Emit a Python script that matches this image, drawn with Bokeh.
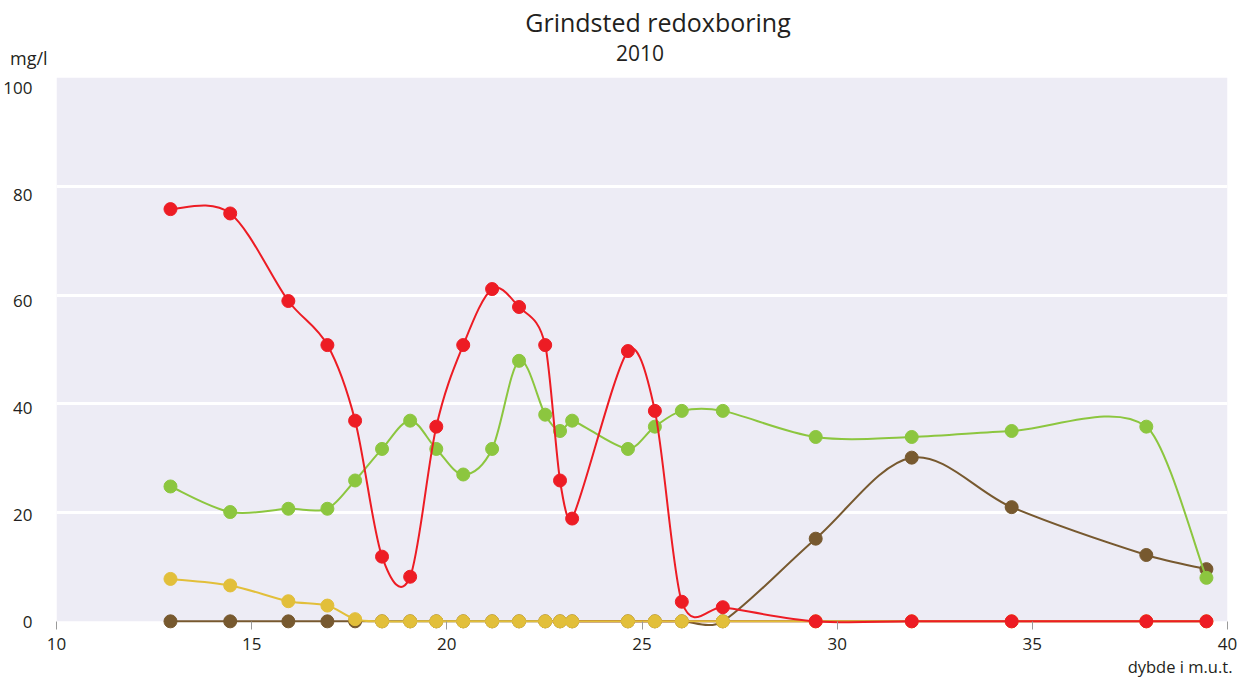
import numpy as np
from bokeh.plotting import figure
from bokeh.layouts import column
from bokeh.models import BoxAnnotation, FixedTicker, Range1d, Div, Title, LinearAxis
from bokeh.embed import file_html
from bokeh.resources import INLINE

# ---- data ----
depth = [12.92, 14.45, 15.94, 16.94, 17.65, 18.34, 19.06, 19.73, 20.42, 21.16, 21.85,
         22.52, 22.90, 23.21, 24.64, 25.33, 26.02, 27.07, 29.45, 31.91, 34.47, 37.92, 39.46]
red = [75.8, 75.0, 58.9, 50.8, 36.9, 11.9, 8.2, 35.8, 50.8, 61.1, 57.8,
       50.8, 25.9, 18.9, 49.7, 38.7, 3.6, 2.6, 0.0, 0.0, 0.0, 0.0, 0.0]
green = [24.8, 20.1, 20.7, 20.7, 25.9, 31.7, 36.9, 31.7, 27.0, 31.7, 47.9,
         38.0, 35.0, 36.9, 31.7, 35.8, 38.7, 38.7, 33.9, 33.9, 35.0, 35.8, 8.0]
brown = [0, 0, 0, 0, 0, 0, 0, 0, 0, 0, 0,
         0, 0, 0, 0, 0, 0, 0, 15.2, 30.1, 21.0, 12.2, 9.6]
yellow = [7.8, 6.6, 3.7, 2.9, 0.4, 0, 0, 0, 0, 0, 0,
          0, 0, 0, 0, 0, 0, 0, 0, 0, 0, 0, 0]
maroon_depth = depth[11:]
maroon = [0, 0, 0, 0, 0, 0, 0, 0, 0, 0, 0, 0]

y_ticks = [0, 20, 40, 60, 80, 100]
x_ticks = [10, 15, 20, 25, 30, 35, 40]

title_text = "Grindsted redoxboring"
subtitle_text = "2010"
y_unit = "mg/l"
x_title = "dybde i m.u.t."

FONT = "Open Sans"
TXT = "#231f20"


def smooth_segments(xs, ys):
    """Cardinal-spline bezier control points through the data points,
    with control handles kept inside each segment's x span."""
    x = np.asarray(xs, float)
    y = np.asarray(ys, float)
    xp = np.concatenate([[x[0]], x, [x[-1]]])
    yp = np.concatenate([[y[0]], y, [y[-1]]])
    n = len(x)
    d = dict(x0=[], y0=[], x1=[], y1=[], cx0=[], cy0=[], cx1=[], cy1=[])
    for i in range(n - 1):
        p0x, p0y = xp[i], yp[i]
        p1x, p1y = xp[i + 1], yp[i + 1]
        p2x, p2y = xp[i + 2], yp[i + 2]
        p3x, p3y = xp[i + 3], yp[i + 3]
        dx = p2x - p1x
        t1x, t1y = (p2x - p0x) / 6.0, (p2y - p0y) / 6.0
        t2x, t2y = (p3x - p1x) / 6.0, (p3y - p1y) / 6.0
        if t1x > dx / 3.0 and t1x > 0:
            s = (dx / 3.0) / t1x
            t1x, t1y = t1x * s, t1y * s
        if t2x > dx / 3.0 and t2x > 0:
            s = (dx / 3.0) / t2x
            t2x, t2y = t2x * s, t2y * s
        d["x0"].append(p1x); d["y0"].append(p1y)
        d["x1"].append(p2x); d["y1"].append(p2y)
        d["cx0"].append(p1x + t1x); d["cy0"].append(p1y + t1y)
        d["cx1"].append(p2x - t2x); d["cy1"].append(p2y - t2y)
    return d


# ---- header (title, subtitle, unit) ----
header_html = f"""
<div style="position:relative;width:1240px;height:72px;font-family:'{FONT}';color:{TXT};">
  <div style="position:absolute;left:458px;top:10px;width:400px;text-align:center;
              font-size:25px;line-height:25px;white-space:nowrap;">{title_text}</div>
  <div style="position:absolute;left:540px;top:43px;width:200px;text-align:center;
              font-size:21px;line-height:21px;white-space:nowrap;">{subtitle_text}</div>
  <div style="position:absolute;left:10px;top:49px;width:80px;text-align:left;
              font-size:18px;line-height:18px;white-space:nowrap;">{y_unit}</div>
</div>
"""
header = Div(text=header_html, width=1240, height=72, margin=(0, 0, 0, 0))

# ---- plot ----
p = figure(width=1240, height=605, x_range=Range1d(10, 40), y_range=Range1d(-1.5, 100),
           output_backend="svg", toolbar_location=None, title=None,
           min_border_left=56, min_border_right=13, min_border_top=5, min_border_bottom=47,
           background_fill_color="white", border_fill_color="white", outline_line_color=None,
           margin=(0, 0, 0, 0))

p.add_layout(BoxAnnotation(bottom=0, top=100, fill_color="#edecf5", fill_alpha=1.0,
                           line_color=None, level="image"))

p.xgrid.visible = False
p.ygrid.ticker = FixedTicker(ticks=[20, 40, 60, 80])
p.ygrid.grid_line_color = "white"
p.ygrid.grid_line_width = 3

p.xaxis.ticker = FixedTicker(ticks=x_ticks)
p.xaxis.axis_line_color = None
p.xaxis.major_tick_in = 8
p.xaxis.major_tick_out = 0
p.xaxis.major_tick_line_color = "#9a9a9a"
p.xaxis.minor_tick_line_color = None
p.xaxis.major_label_standoff = 8
p.xaxis.major_label_text_font = FONT
p.xaxis.major_label_text_font_size = "17px"
p.xaxis.major_label_text_color = TXT

# value labels of the reference sit slightly below their grid lines:
# use a label axis on a slightly stretched range
p.yaxis.visible = False
p.extra_y_ranges = {"ylab": Range1d(-1.31, 101.87)}
yax = LinearAxis(y_range_name="ylab", ticker=FixedTicker(ticks=y_ticks),
                 axis_line_color=None, major_tick_line_color=None, minor_tick_line_color=None,
                 major_label_standoff=18, major_label_text_font=FONT,
                 major_label_text_font_size="17px", major_label_text_color=TXT)
p.add_layout(yax, "left")

series = [
    (depth, brown, "#77592f", True),
    (maroon_depth, maroon, "#8a1c1c", False),
    (depth, yellow, "#e2bf3a", True),
    (depth, green, "#8cc63f", True),
    (depth, red, "#ed1c24", True),
]
for xs, ys, col, dots in series:
    seg = smooth_segments(xs, ys)
    p.bezier(x0="x0", y0="y0", x1="x1", y1="y1", cx0="cx0", cy0="cy0", cx1="cx1", cy1="cy1",
             source=seg, line_color=col, line_width=2)
    if dots:
        p.scatter(xs, ys, size=13, fill_color=col, line_color=col)

p.add_layout(Title(text=x_title, align="right", offset=-5, standoff=0,
                   text_font=FONT, text_font_size="16.5px", text_font_style="normal",
                   text_color=TXT), "below")

layout = column(header, p, spacing=0)
open("out.html", "w").write(file_html(layout, INLINE))
